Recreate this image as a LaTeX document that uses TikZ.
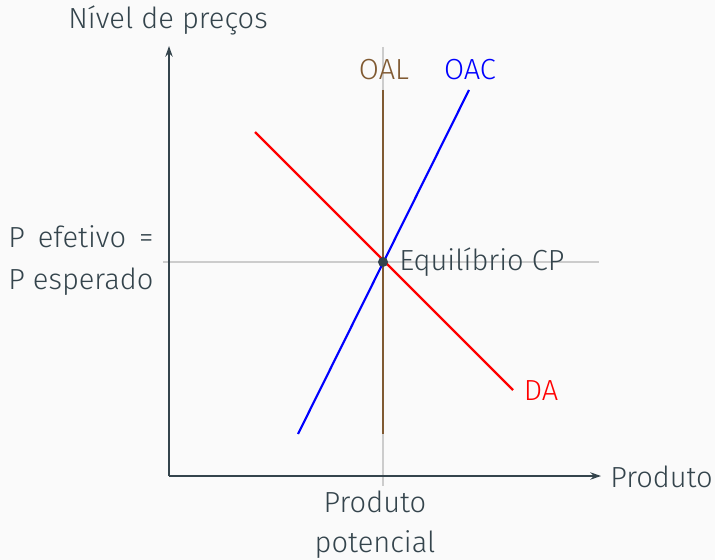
\documentclass[tikz,border=0pt]{standalone}
\usepackage{fontspec}
\IfFontExistsTF{Fira Sans Light}{\setmainfont{Fira Sans Light}}{\setmainfont{Fira Sans}}
\usetikzlibrary{arrows.meta}
\definecolor{txt}{HTML}{34444C}
\definecolor{bgc}{HTML}{FAFAFA}
\definecolor{oal}{HTML}{805A32}
\definecolor{guide}{HTML}{CCCCCC}
\begin{document}
\begin{tikzpicture}[x=0.75pt,y=-0.75pt,
  lbl/.style={font=\fontsize{21.8}{30}\selectfont, text=txt, inner sep=0pt},
  axisline/.style={draw=txt, line width=1.3pt, -{Stealth[length=8pt,width=5.5pt]}},
  guideline/.style={draw=guide, line width=1.1pt},
  curve/.style={line width=1.6pt}]
\fill[bgc] (0,0) rectangle (715,560);
\useasboundingbox (0,0) rectangle (715,560);
% coordinates
\coordinate (O) at (169,476);
\coordinate (ytop) at (169,46);
\coordinate (xend) at (601,476);
\coordinate (gvt) at (383,47);
\coordinate (gvb) at (383,486);
\coordinate (ghl) at (163,262);
\coordinate (ghr) at (599,262);
\coordinate (oalt) at (383,90);
\coordinate (oalb) at (383,434);
\coordinate (oacb) at (298,434);
\coordinate (oact) at (469,90);
\coordinate (dat) at (255,132);
\coordinate (dab) at (513,390);
% guides
\draw[guideline] (gvt) -- (gvb);
\draw[guideline] (ghl) -- (ghr);
% axes
\draw[axisline] (O) -- (ytop);
\draw[axisline] (O) -- (xend);
% curves
\draw[curve, draw=oal] (oalt) -- (oalb);
\draw[curve, draw=blue] (oacb) -- (oact);
\draw[curve, draw=red] (dat) -- (dab);
% equilibrium
\node[circle, fill=txt, inner sep=0pt, minimum size=7.5pt] (eq) at (383,262) {};
% labels
\node[lbl] (ylab) at (168,20) {Nível de preços};
\node[lbl, text=oal] (loal) at (384,70) {OAL};
\node[lbl, text=blue] (loac) at (470,70) {OAC};
\node[lbl, anchor=west] (leq) at (399,262) {Equilíbrio CP};
\node[lbl, text=red] (lda) at (541,391) {DA};
\node[lbl, anchor=west] (xlab) at (610,477) {Produto};
\node[lbl, align=center, font=\fontsize{21.8}{30}\selectfont] (lpot) at (375,525) {Produto\\potencial};
\node[lbl, align=left, anchor=west, font=\fontsize{21.8}{31.5}\selectfont] (lp) at (8,261) {\setbox0\hbox{P esperado}\hbox to \wd0{P\hfill efetivo\hfill =}\\P esperado};
\end{tikzpicture}
\end{document}
